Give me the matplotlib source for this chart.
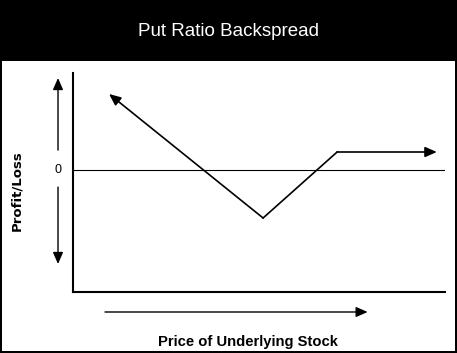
import matplotlib
matplotlib.use('Agg')
import matplotlib.pyplot as plt
from matplotlib.patches import Rectangle

# payoff diagram (schematic) - price of underlying vs profit/loss
price = [9.7, 51.1, 71.0, 97.8]
pnl = [38.0, -24.0, 9.0, 9.0]

title = 'Put Ratio Backspread'
xlabel = 'Price of Underlying Stock'
ylabel = 'Profit/Loss'

W, H = 457, 353
fig = plt.figure(figsize=(W / 100, H / 100), dpi=100, facecolor='black')

# background: white panel under the black title banner
bg = fig.add_axes([0, 0, 1, 1], zorder=-1)
bg.set_xlim(0, W)
bg.set_ylim(H, 0)
bg.axis('off')
bg.add_patch(Rectangle((2, 61), 453, 290, facecolor='white', edgecolor='none'))
bg.text(228, 32, title, color='white', fontsize=13.5,
        family='Liberation Sans', ha='center', va='center')

ax = fig.add_axes([73 / W, 61 / H, 372 / W, 219 / H])
ax.set_facecolor('none')
ax.set_xlim(0, 100)
ax.set_ylim(-61, 48.5)
for s in ['top', 'right']:
    ax.spines[s].set_visible(False)
ax.spines['left'].set_linewidth(1.5)
ax.spines['bottom'].set_linewidth(1.5)
ax.set_xticks([])
ax.set_yticks([])

# zero line
ax.axhline(0, color='black', lw=0.8)

ap = dict(arrowstyle='-|>,head_length=0.5,head_width=0.22', mutation_scale=14,
          lw=1.2, color='black', shrinkA=0, shrinkB=0)

# payoff line with arrows at both ends
ax.plot(price[1:3], pnl[1:3], color='black', lw=1.2)
ax.annotate('', xy=(price[0], pnl[0]), xytext=(price[1], pnl[1]), arrowprops=ap)
ax.annotate('', xy=(price[3], pnl[3]), xytext=(price[2], pnl[2]), arrowprops=ap)

# profit/loss direction arrows with 0 label
tr = ax.get_yaxis_transform()
ax.annotate('', xy=(-0.0403, 0.977), xytext=(-0.0403, 0.648),
            xycoords='axes fraction', textcoords='axes fraction',
            arrowprops=dict(ap, lw=1.0), annotation_clip=False)
ax.annotate('', xy=(-0.0403, 0.128), xytext=(-0.0403, 0.479),
            xycoords='axes fraction', textcoords='axes fraction',
            arrowprops=dict(ap, lw=1.0), annotation_clip=False)
ax.text(-0.0403, 0, '0', transform=tr, ha='center', va='center',
        fontsize=9, family='Liberation Sans')

# price direction arrow
ax.annotate('', xy=(0.792, -0.0913), xytext=(0.086, -0.0913),
            xycoords='axes fraction', textcoords='axes fraction',
            arrowprops=dict(ap, lw=1.0), annotation_clip=False)

bg.text(248, 342, xlabel, fontsize=10.6, fontweight='bold',
        family='Liberation Sans', ha='center', va='center')
bg.text(17, 191, ylabel, fontsize=9.5, fontweight='bold',
        family='DejaVu Sans', rotation=90, ha='center', va='center')

fig.savefig('out.png', dpi=100, facecolor='black')
